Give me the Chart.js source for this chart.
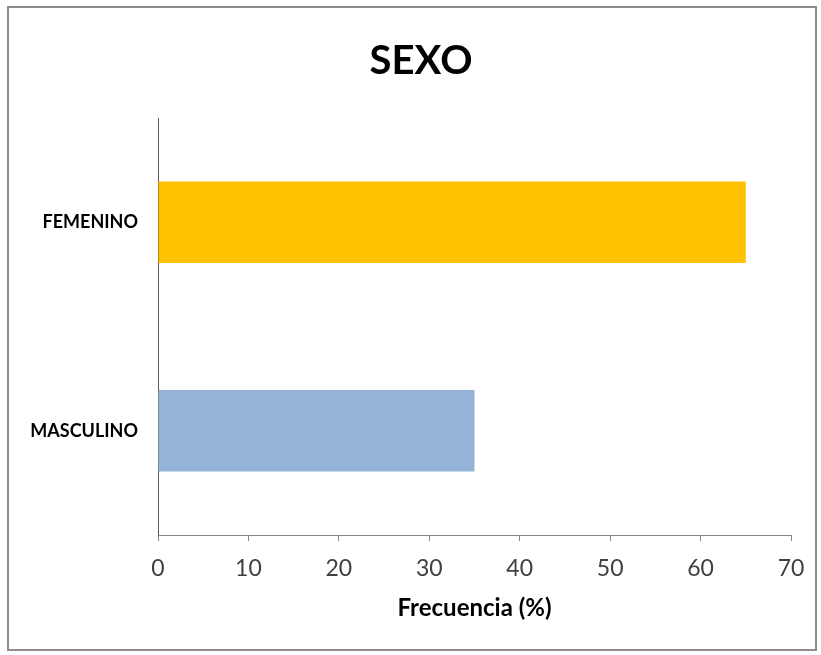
<!DOCTYPE html>
<html>
<head>
<meta charset="utf-8">
<script src="https://cdn.jsdelivr.net/npm/chart.js@4"></script>
<style>
  body { margin: 0; background: #fff; }
  #wrap { position: relative; width: 821px; height: 655px; }
  #frame { position: absolute; left: 7px; top: 6px; width: 806px; height: 641px; border: 2px solid #8c8c8c; pointer-events: none; }
</style>
</head>
<body>
<div id="wrap">
  <canvas id="chart" width="821" height="655"></canvas>
  <div id="frame"></div>
</div>
<script>
// datos
const categorias = ['FEMENINO', 'MASCULINO']
const frecuencias = [65, 35]
const colores = ['#FFC000', '#95B3D7']
const ticksX = [0, 10, 20, 30, 40, 50, 60, 70]

const ctx = document.getElementById('chart')

// the title in the original is a bit right of the canvas centre
const moverTitulo = {
  id: 'moverTitulo',
  afterLayout(chart) {
    if (chart.titleBlock) chart.titleBlock.left = 51
  }
}

new Chart(ctx, {
  type: 'bar',
  data: {
    labels: categorias,
    datasets: [{
      label: 'Frecuencia (%)',
      data: frecuencias,
      backgroundColor: colores,
      borderWidth: 0,
      barPercentage: 0.39,
      categoryPercentage: 1
    }]
  },
  options: {
    indexAxis: 'y',
    responsive: false,
    animation: false,
    layout: { padding: { left: 10, right: 30, top: 10, bottom: 20 } },
    plugins: {
      legend: { display: false },
      tooltip: { enabled: false },
      title: {
        display: true,
        text: 'SEXO',
        color: '#000',
        font: { family: 'Lato', size: 40, weight: 'bold' },
        padding: { top: 27, bottom: 33 }
      }
    },
    scales: {
      y: {
        grid: { display: false, drawTicks: false },
        border: { display: true, color: '#595959', width: 1 },
        ticks: {
          color: '#000',
          padding: 20,
          font: { family: 'Lato', size: 18, weight: 'bold' }
        },
        afterFit: (scale) => { scale.width = 148 }
      },
      x: {
        min: ticksX[0],
        max: ticksX[ticksX.length - 1],
        grid: { display: true, drawOnChartArea: false, drawTicks: true, tickLength: 6, color: '#868686' },
        border: { display: true, color: '#868686', width: 1 },
        ticks: {
          stepSize: ticksX[1] - ticksX[0],
          color: '#404040',
          padding: 14,
          font: { family: 'Lato', size: 23 }
        },
        title: {
          display: true,
          text: 'Frecuencia (%)',
          color: '#000',
          font: { family: 'Lato', size: 24, weight: 'bold' },
          padding: { top: 0, bottom: 12 }
        },
        afterFit: (scale) => { scale.height = 100 }
      }
    }
  },
  plugins: [moverTitulo]
})
</script>
</body>
</html>
